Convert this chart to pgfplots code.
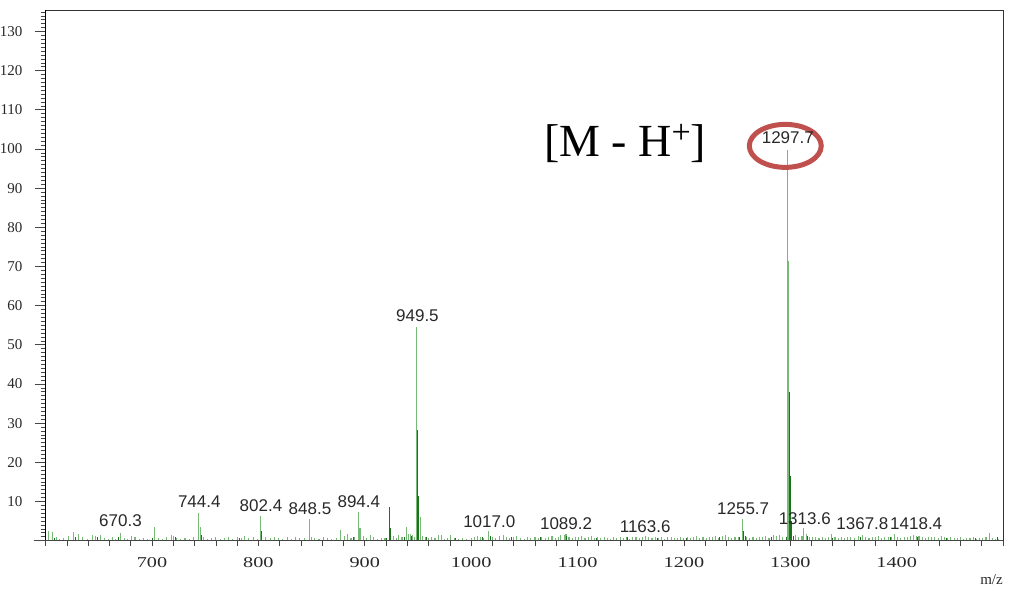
\documentclass[border=0pt]{standalone}
\usepackage{pgfplots}
\pgfplotsset{compat=1.18}
\usepackage{pgfplotstable}
\usepackage{fontspec}
\setmainfont{Liberation Serif}
\newfontfamily\arial{Liberation Sans}
\definecolor{lgreen}{RGB}{120,185,120}
\definecolor{dgreen}{RGB}{28,115,28}
\definecolor{circred}{RGB}{192,80,77}
\definecolor{axgray}{RGB}{70,70,70}
\definecolor{txt}{RGB}{40,40,40}

\pgfplotstableread{
x h
600 3.4
603 2.4
606 2.2
610 1.0
613 0.5
617 0.6
621.6 1.1
626 2.2
631 1.7
635 0.8
639 0.5
643.8 1.5
647 1.2
651.6 1.5
655 0.6
659 0.4
663 0.9
666 0.5
670.3 2.0
674 0.7
677 0.5
681 1.1
684 0.8
688 0.5
692 0.7
696 0.4
702 3.4
706 0.6
710 0.4
714 0.8
718 1.5
720 1.1
723 0.7
727 0.4
731 0.6
735 0.3
739 0.8
744.0 7.1
745.4 3.4
748 0.8
752 0.4
756 0.6
760 0.9
764 0.5
768 0.7
772 0.8
776 0.5
780 0.9
784 0.6
787 1.3
791 0.6
795 0.8
799 0.5
802.0 6.3
807 0.8
811 0.6
815 1.0
819 0.7
823 0.4
827 0.8
831 0.5
835 0.9
839 0.6
843 0.7
848.0 5.6
850 0.9
853 0.7
857 0.5
861 0.8
865 0.6
869 0.5
873 0.7
877.5 2.6
881 1.1
883.6 1.7
887 0.6
890 0.8
893.8 7.2
895.5 3.2
899 1.1
902 0.6
905 1.4
908 0.8
912 0.5
916 0.7
919 0.6
927 1.1
930 0.6
932 1.5
935 0.8
939 3.4
941 1.7
943 1.7
945 1.5
947 1.0
948.8 54.6
952.5 6.0
954 1.2
957 0.9
960 0.6
963 0.8
966 0.7
969 1.5
972 1.4
975 0.5
978 0.7
981 1.4
984 0.6
988 0.5
992 0.7
996 0.4
1000 0.6
1003 0.8
1006 1.1
1009 1.0
1012 0.7
1016.2 2.4
1020 1.0
1023 0.7
1027 1.1
1030 1.4
1033 0.8
1036 0.6
1040 0.9
1043 1.1
1046 0.7
1050 0.5
1053 0.8
1056 0.6
1060 0.9
1063 0.7
1066 1.0
1070 0.6
1073 0.8
1076 1.1
1079 0.7
1082 0.9
1084.4 1.4
1087.5 1.5
1089.2 1.6
1092 0.9
1095 0.7
1098 1.0
1101 0.8
1104 1.2
1107 0.6
1110 0.9
1113 1.1
1116 0.7
1119 0.8
1122 0.6
1125 0.9
1128 0.7
1131 0.5
1134 0.8
1137 0.6
1140 1.0
1143 0.7
1146 0.9
1149 0.5
1152 0.8
1155 1.0
1158 0.7
1161 0.9
1163.6 1.3
1167 0.8
1170 0.6
1173 1.0
1176 0.7
1179 0.9
1182 0.5
1185 0.8
1188 1.0
1191 0.7
1194 0.6
1197 0.9
1200 0.7
1203 1.0
1206 0.6
1209 0.8
1212 1.1
1215 0.7
1218 0.9
1221 0.6
1224 1.0
1227 0.8
1230 1.1
1233 0.7
1236 1.2
1239 1.4
1242 0.9
1245 0.7
1248 1.0
1251 0.8
1255.0 5.4
1259 0.9
1262 0.7
1265 1.0
1268 0.6
1271 0.9
1274 0.8
1277 1.1
1280 0.7
1284 1.5
1287 1.2
1290 1.5
1293 0.9
1297.0 99.8
1298.0 71.5
1305 1.4
1308 0.8
1311 1.2
1312.8 3.1
1315 1.7
1318 0.9
1321 0.8
1324 1.0
1327 0.7
1330 0.9
1333 0.6
1336 0.8
1338.7 1.7
1342 0.8
1345 0.6
1348 0.9
1351 0.7
1354 1.0
1357 0.8
1360 0.6
1364 1.1
1367.8 1.5
1371 0.9
1374 0.7
1377 1.0
1380 0.8
1383 1.2
1386 0.7
1389 0.9
1392 1.0
1395 0.8
1398.4 1.7
1401 0.9
1404 0.7
1407 1.0
1410 0.8
1413 1.1
1415.6 1.5
1418.4 1.2
1421 1.2
1424 0.8
1427 0.7
1430 1.0
1433 0.8
1436 0.9
1439 0.7
1442 1.1
1445 0.8
1448 0.6
1451 0.9
1454 0.7
1457 0.6
1460 0.9
1463 0.5
1466 0.7
1469 0.6
1472 0.8
1475 0.5
1478 0.7
1481 0.6
1484 0.9
1487.5 2.0
1490 0.6
1493 0.5
1496 0.4
}\lightpeaks

\pgfplotstableread{
x h
608 0.6
628 0.9
649 1.0
668 0.8
700 0.7
722 0.9
746.4 1.5
782 0.6
803.2 2.4
889 0.8
920 0.7
923.4 8.7
924.6 3.2
937 1.0
944 1.2
949.6 28.3
950.6 11.5
958 0.8
985 0.7
1011 0.9
1018 1.3
1038 0.8
1065 0.9
1090 1.2
1118 0.7
1147 0.8
1175 0.6
1202 0.7
1233.5 0.9
1252 1.0
1256.2 2.4
1257.7 1.2
1282 0.8
1296 1.0
1299.0 38.0
1300.0 16.5
1301.0 5.0
1303 1.1
1316 1.3
1340 0.7
1366 0.8
1394 0.9
1420 0.8
1447 0.7
1474 0.6
1495 0.8
}\darkpeaks

\pgfplotstableread{
x y label
670.3 3.6 670.3
744.4 8.4 744.4
802.4 7.4 802.4
848.5 6.6 848.5
894.4 8.4 894.4
949.5 55.9 949.5
1017.0 3.3 1017.0
1089.2 2.8 1089.2
1163.6 2.0 1163.6
1255.7 6.6 1255.7
1297.7 101.2 1297.7
1313.6 4.1 1313.6
1367.8 2.8 1367.8
1418.4 2.8 1418.4
}\peaklabels

\begin{document}
\begin{tikzpicture}
\begin{axis}[
  scale only axis,
  width=958pt, height=531pt,
  xmin=600, xmax=1500, ymin=0, ymax=135.5,
  clip=false,
  axis line style={draw=black!80, line width=0.8pt},
  tick pos=left,
  xtick={700,800,...,1400},
  minor xtick={600,620,...,1500},
  major x tick style={draw=none},
  ytick={10,20,...,130},
  minor ytick={1,2,...,135},
  tick align=outside,
  major tick length=11pt,
  minor tick length=5pt,
  every tick/.style={axgray, line width=0.7pt},
  tick label style={font=\fontsize{15}{15}\selectfont, text=txt},
  /pgf/number format/assume math mode=true,
  /pgf/number format/1000 sep={},
  xticklabel={\scalebox{1.35}[1]{\pgfmathprintnumber{\tick}}},
  xticklabel style={anchor=north, inner sep=0pt, yshift=-6pt},
  yticklabel style={anchor=east, inner sep=0pt, xshift=-12pt},
]
% bounding box of the whole picture
\path ([shift={(-45pt,-50pt)}]rel axis cs:0,0) rectangle ([shift={(6pt,10pt)}]rel axis cs:1,1);

\addplot[ycomb, lgreen, line width=1.1pt, mark=none] table[x=x, y=h] {\lightpeaks};
\addplot[ycomb, dgreen, line width=1.0pt, mark=none] table[x=x, y=h] {\darkpeaks};

\addplot[draw=none, mark=none, nodes near coords, point meta=explicit symbolic,
  nodes near coords style={anchor=south, inner sep=0pt, font=\arial\fontsize{17}{17}\selectfont, text=txt}]
  table[x=x, y=y, meta=label] {\peaklabels};

% axis lines
\draw[black, line width=1.4pt] (rel axis cs:0,0) -- (rel axis cs:0,1);
\draw[axgray, line width=1.4pt] ([xshift=-12pt]rel axis cs:0,0) -- (rel axis cs:1,0);

% annotation
\draw[circred, line width=5pt] (axis cs:1295.3,100.8) ellipse [x radius=36pt, y radius=21.5pt];
\node[anchor=base, inner sep=0pt, font=\fontsize{46}{46}\selectfont] at (axis cs:1144.7,98) {[M - H\raisebox{13pt}{\fontsize{34}{34}\selectfont +}]};
\node[inner sep=0pt, font=\fontsize{15}{15}\selectfont, text=txt] at ([shift={(-11.5pt,-39pt)}]rel axis cs:1,0) {m/z};
\end{axis}
\end{tikzpicture}
\end{document}
